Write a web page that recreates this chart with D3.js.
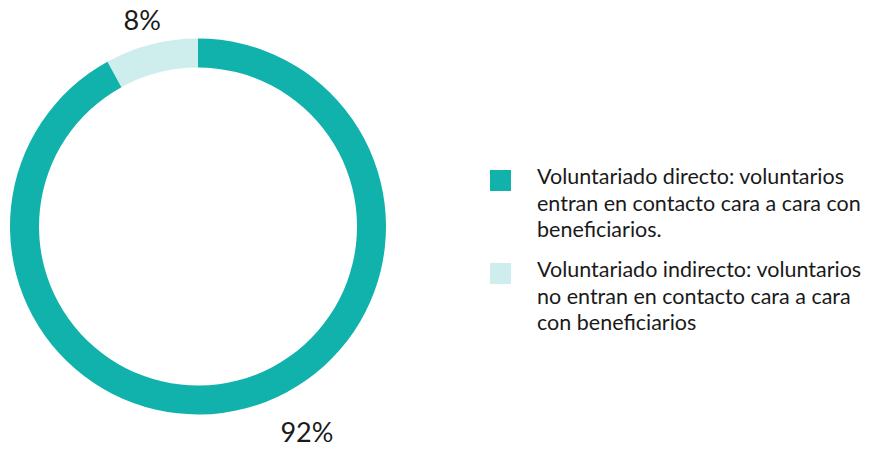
<!DOCTYPE html>
<html><head><meta charset="utf-8">
<script src="https://cdn.jsdelivr.net/npm/d3@7/dist/d3.min.js"></script>
<style>html,body{margin:0;padding:0;background:#fff;}svg{display:block;font-family:Lato,"Open Sans",sans-serif;}</style>
</head><body>
<svg id="chart" width="871" height="449"></svg>
<script>
const categories = ["Voluntariado indirecto", "Voluntariado directo"];
const values = [8, 92];
const valueLabels = ["8%", "92%"];
const legendLabels = [
  ["Voluntariado directo: voluntarios", "entran en contacto cara a cara con", "beneficiarios."],
  ["Voluntariado indirecto: voluntarios", "no entran en contacto cara a cara", "con beneficiarios"]
];
const legendOrder = [1, 0];
const colors = ["#cdeeed", "#10b2ab"];

const svg = d3.select("#chart");
const cx = 198, cy = 226.5, rOuter = 188, rInner = 159;
const g = svg.append("g").attr("transform", `translate(${cx},${cy})`);
const pie = d3.pie().sort(null).value(d => d).startAngle(0).endAngle(-2 * Math.PI);
const arcs = pie(values);
const arc = d3.arc().innerRadius(rInner).outerRadius(rOuter);
g.selectAll("path").data(arcs).enter().append("path")
  .attr("d", arc).attr("fill", (d, i) => colors[i]);

// label angles (offset from slice mid) & radius
const labelAngleShift = [-0.014, -0.234];
const labelR = [213, 233.5];
g.selectAll("text.pct").data(arcs).enter().append("text")
  .attr("class", "pct")
  .attr("x", (d, i) => labelR[i] * Math.sin((d.startAngle + d.endAngle) / 2 + labelAngleShift[i]))
  .attr("y", (d, i) => -labelR[i] * Math.cos((d.startAngle + d.endAngle) / 2 + labelAngleShift[i]))
  .attr("text-anchor", "middle").attr("dy", "0.35em")
  .attr("font-size", 27).attr("fill", "#1a1a1a")
  .text((d, i) => valueLabels[i]);

const lg = svg.append("g").attr("transform", "translate(490,170)");
const items = lg.selectAll("g").data(legendOrder).enter().append("g")
  .attr("transform", (d, k) => `translate(0,${k * 93})`);
items.append("rect").attr("width", 21).attr("height", 21).attr("fill", d => colors[d]);
items.each(function(d) {
  const t = d3.select(this).append("text").attr("x", 47).attr("y", 14)
    .attr("font-size", 21.5).attr("fill", "#1a1a1a");
  legendLabels[d === 1 ? 0 : 1].forEach((line, j) => {
    t.append("tspan").attr("x", 47).attr("y", 14 + j * 26.5).text(line);
  });
});
</script>
</body></html>
